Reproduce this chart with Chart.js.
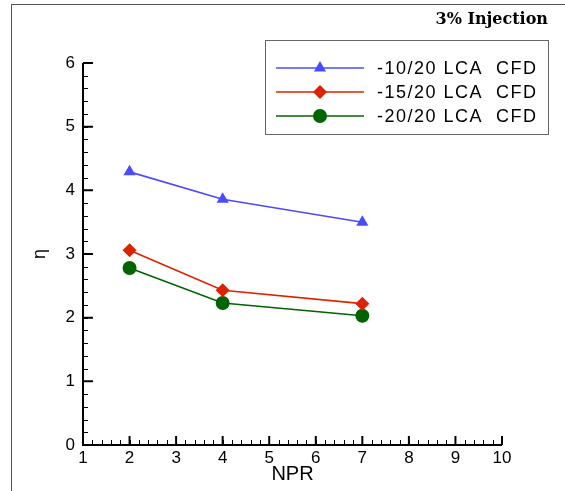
<!DOCTYPE html>
<html>
<head>
<meta charset="utf-8">
<script src="https://cdn.jsdelivr.net/npm/chart.js@4/dist/chart.umd.min.js"></script>
<style>
  body { margin: 0; background: #fff; }
  #wrap { position: relative; width: 565px; height: 491px; }
  #frame { position: absolute; left: 11px; top: 4px; right: -5px; bottom: -5px;
           border-left: 1px solid #555; border-top: 1px solid #555; pointer-events: none; }
</style>
</head>
<body>
<div id="wrap">
  <canvas id="myChart" width="565" height="491"></canvas>
  <div id="frame"></div>
</div>
<script>
// values
const npr = [2, 4, 7];
const eta10 = [4.29, 3.86, 3.50];
const eta15 = [3.06, 2.43, 2.22];
const eta20 = [2.78, 2.23, 2.03];
const seriesNames = ['-10/20 LCA  CFD', '-15/20 LCA  CFD', '-20/20 LCA  CFD'];
const xTicks = [1, 2, 3, 4, 5, 6, 7, 8, 9, 10];
const yTicks = [0, 1, 2, 3, 4, 5, 6];

const sans = '"Liberation Sans", Arial, sans-serif';

function toPoints(ys){
    let pts = [];
    for(let i = 0;i < npr.length;i++){
        pts.push({x: npr[i], y: ys[i]});
    }
    return pts;
}

// axis lines, inward ticks, legend box and corner title
const decorPlugin = {
    id: 'decor',
    afterDraw(chart){
        const ctx = chart.ctx;
        const xs = chart.scales.x, ys = chart.scales.y;
        const left = xs.left, bottom = ys.bottom;
        ctx.save();
        ctx.strokeStyle = '#000';
        ctx.lineWidth = 2;
        ctx.beginPath();
        ctx.moveTo(left, ys.getPixelForValue(6));
        ctx.lineTo(left, bottom);
        ctx.lineTo(xs.getPixelForValue(10), bottom);
        ctx.stroke();
        ctx.lineWidth = 1;
        ctx.beginPath();
        // minor ticks, 5 per unit
        for(let i = 0;i <= 45;i++){
            let px = Math.round(xs.getPixelForValue(1 + i * 0.2)) + 0.5;
            ctx.moveTo(px, bottom);
            ctx.lineTo(px, bottom - 5);
        }
        for(let i = 0;i <= 30;i++){
            let py = Math.round(ys.getPixelForValue(i * 0.2)) + 0.5;
            ctx.moveTo(left, py);
            ctx.lineTo(left + 5, py);
        }
        ctx.stroke();
        ctx.lineWidth = 2;
        ctx.beginPath();
        for(const v of xTicks){
            let px = xs.getPixelForValue(v);
            ctx.moveTo(px, bottom); ctx.lineTo(px, bottom - 9);
        }
        for(const v of yTicks){
            let py = ys.getPixelForValue(v);
            ctx.moveTo(left, py); ctx.lineTo(left + 10, py);
        }
        ctx.stroke();

        // legend
        ctx.strokeStyle = '#666';
        ctx.lineWidth = 1;
        ctx.strokeRect(265.5, 40.5, 283, 94);
        const rows = [68, 92, 116];
        ctx.font = '18px ' + sans;
        ctx.letterSpacing = '1.5px';
        ctx.textBaseline = 'middle';
        chart.data.datasets.forEach((ds, i) => {
            let y = rows[i];
            ctx.strokeStyle = ds.borderColor;
            ctx.lineWidth = 1.6;
            ctx.beginPath();
            ctx.moveTo(276, y); ctx.lineTo(364, y);
            ctx.stroke();
            ctx.fillStyle = ds.backgroundColor;
            Chart.helpers.drawPoint(ctx, {pointStyle: ds.pointStyle, radius: ds.pointRadius, borderWidth: 0}, 320, y);
            ctx.fillStyle = '#000';
            ctx.fillText(ds.label, 377, y + 1);
        });

        ctx.letterSpacing = '0px';
        ctx.font = 'bold 16px "DejaVu Serif", "Liberation Serif", serif';
        ctx.textAlign = 'right';
        ctx.fillText('3% Injection', 548, 20);
        ctx.restore();
    }
};

const commonDs = {showLine: true, borderWidth: 1.6, pointBorderWidth: 0, fill: false};

window.addEventListener('load', function() {
    const ctx = document.getElementById('myChart').getContext('2d');
    new Chart(ctx, {
        type: 'scatter',
        data: {
            datasets: [
                Object.assign({}, commonDs, {label: seriesNames[0], data: toPoints(eta10),
                    borderColor: '#4a4aff', backgroundColor: '#4a4aff', pointStyle: 'triangle', pointRadius: 7}),
                Object.assign({}, commonDs, {label: seriesNames[1], data: toPoints(eta15),
                    borderColor: '#dd2200', backgroundColor: '#dd2200', pointStyle: 'rectRot', pointRadius: 7}),
                Object.assign({}, commonDs, {label: seriesNames[2], data: toPoints(eta20),
                    borderColor: '#006400', backgroundColor: '#006400', pointStyle: 'circle', pointRadius: 7})
            ]
        },
        options: {
            responsive: false,
            animation: false,
            layout: {padding: {left: 0, right: 63, top: 63, bottom: 0}},
            plugins: {legend: {display: false}, tooltip: {enabled: false}},
            scales: {
                x: {
                    type: 'linear', min: 1, max: 10,
                    afterBuildTicks: (s) => { s.ticks = xTicks.map(v => ({value: v})); },
                    afterFit: (s) => { s.height = 46; },
                    grid: {display: false, drawTicks: false},
                    border: {display: false},
                    ticks: {color: '#000', padding: 3, font: {size: 17, family: sans}},
                    title: {display: true, text: 'NPR', color: '#000', padding: {top: 0, bottom: 5},
                        font: {size: 20, family: sans}}
                },
                y: {
                    type: 'linear', min: 0, max: 6,
                    afterBuildTicks: (s) => { s.ticks = yTicks.map(v => ({value: v})); },
                    afterFit: (s) => { s.width = 83; },
                    grid: {display: false, drawTicks: false},
                    border: {display: false},
                    ticks: {color: '#000', padding: 8, font: {size: 17, family: sans}},
                    title: {display: true, text: 'η', color: '#000', padding: {top: 29, bottom: 0},
                        font: {size: 18, family: sans}}
                }
            }
        },
        plugins: [decorPlugin]
    });
});
</script>
</body>
</html>
